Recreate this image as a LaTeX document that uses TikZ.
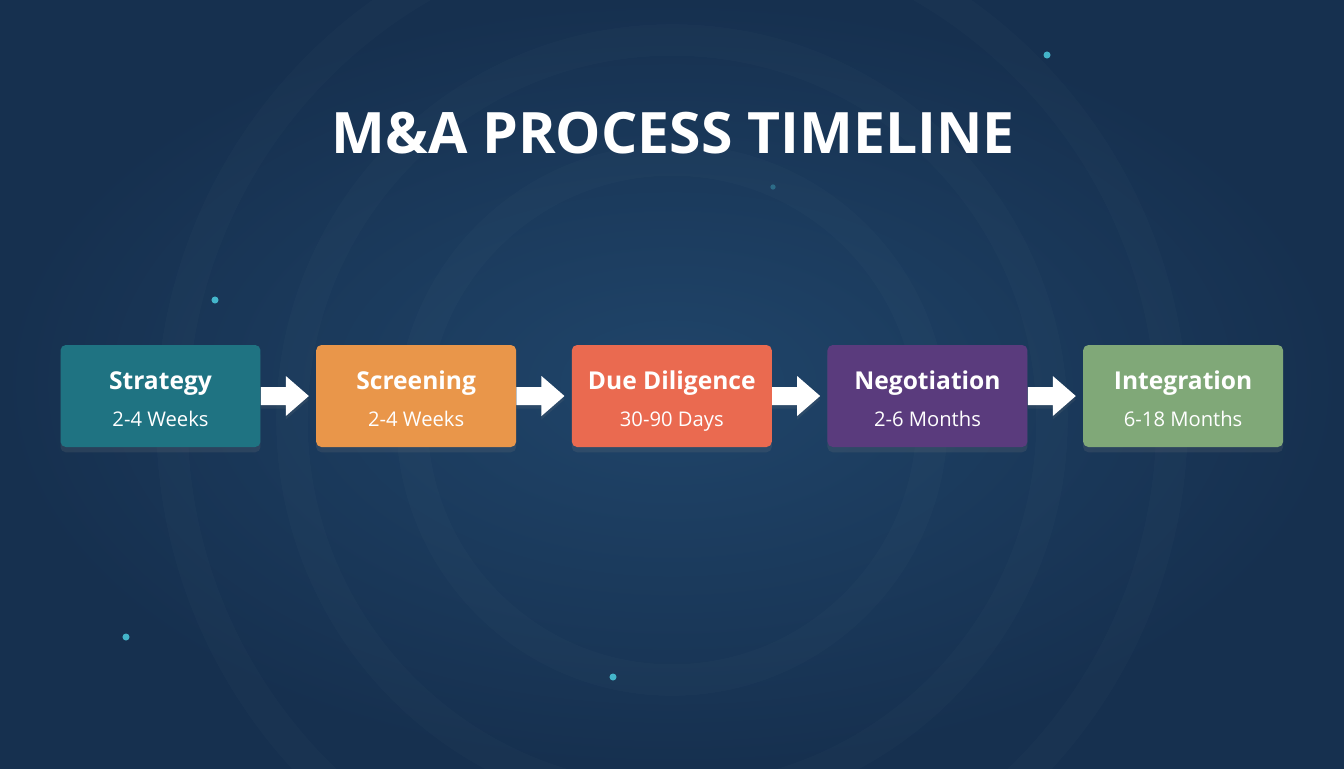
\documentclass[tikz,border=0pt]{standalone}
\usepackage{fontspec}
\setmainfont{Open Sans}
\usetikzlibrary{positioning,shadows,calc}
\definecolor{bgcentre}{HTML}{20456A}
\definecolor{bgdark}{HTML}{16304F}
\definecolor{stratteal}{HTML}{1F7382}
\definecolor{screenorange}{HTML}{E9964A}
\definecolor{duered}{HTML}{EA6A50}
\definecolor{negopurple}{HTML}{5A3B7D}
\definecolor{integgreen}{HTML}{80A878}
\definecolor{glowcyan}{HTML}{4FD6E8}
\tikzset{
  stage/.style={rounded corners=3pt, minimum width=4cm, minimum height=2.04cm,
    inner sep=0pt, align=center, text=white,
    font=\fontsize{11.5}{21}\selectfont,
    drop shadow={shadow xshift=0pt, shadow yshift=-3pt, opacity=.18}},
  flowarrow/.style={fill=white, drop shadow={shadow xshift=0pt, shadow yshift=-2pt, opacity=.15}},
  glowdot/.style={fill=glowcyan, circle, inner sep=0pt, minimum size=4pt}
}
\newcommand{\stagetext}[2]{{\rule{0pt}{17.5pt}\fontsize{14}{21}\selectfont\bfseries #1}\\ #2\rule[-4pt]{0pt}{4pt}}
\begin{document}
\begin{tikzpicture}[x=0.02cm, y=-0.02cm]
  \useasboundingbox (0,0) rectangle (1344,768);
  % background
  \shade[inner color=bgcentre, outer color=bgdark] (0,0) rectangle (1344,768);
  \foreach \r in {260,380,500}
    \draw[white, opacity=.015, line width=18pt] (672,420) circle[radius=\r];
  % glow dots
  \foreach \p in {(1047,55),(215,300),(126,637),(613,677)}
    \node[glowdot, opacity=.8] at \p {};
  \node[glowdot, opacity=.3, minimum size=3pt] at (773,187) {};

  \node[text=white, font=\fontsize{32.5}{38}\selectfont\bfseries] (title) at (673,133) {M\&A PROCESS TIMELINE};

  \node[stage, fill=stratteal] (strat) at (160.5,396) {\stagetext{Strategy}{2-4 Weeks}};
  \node[stage, fill=screenorange, right=1.1cm of strat] (screen) {\stagetext{Screening}{2-4 Weeks}};
  \node[stage, fill=duered, right=1.1cm of screen] (due) {\stagetext{Due Diligence}{30-90 Days}};
  \node[stage, fill=negopurple, right=1.1cm of due] (nego) {\stagetext{Negotiation}{2-6 Months}};
  \node[stage, fill=integgreen, right=1.1cm of nego] (integ) {\stagetext{Integration}{6-18 Months}};

  % block arrows
  \foreach \a/\b in {strat/screen, screen/due, due/nego, nego/integ}
    \fill[flowarrow] ($(\a.east)+(0,-9)$) -- ++(25,0) -- ++(0,-11)
      -- ($(\b.west)+(-7,0)$) -- ($(\a.east)+(25,20)$) -- ++(0,-11)
      -- ($(\a.east)+(0,9)$) -- cycle;
\end{tikzpicture}
\end{document}
